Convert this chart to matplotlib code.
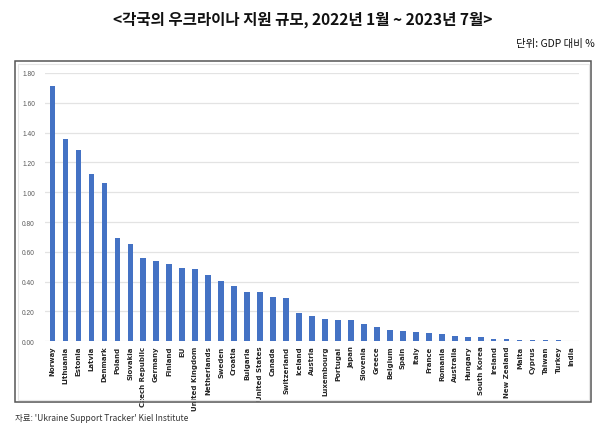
import matplotlib
matplotlib.use("Agg")
import matplotlib.pyplot as plt
from matplotlib.patches import Rectangle

plt.rcParams['font.family'] = ['Noto Sans CJK KR', 'DejaVu Sans']

countries = ["Norway", "Lithuania", "Estonia", "Latvia", "Denmark", "Poland", "Slovakia",
             "Czech Republic", "Germany", "Finland", "EU", "United Kingdom", "Netherlands",
             "Sweden", "Croatia", "Bulgaria", "United States", "Canada", "Switzerland",
             "Iceland", "Austria", "Luxembourg", "Portugal", "Japan", "Slovenia", "Greece",
             "Belgium", "Spain", "Italy", "France", "Romania", "Australia", "Hungary",
             "South Korea", "Ireland", "New Zealand", "Malta", "Cyprus", "Taiwan", "Turkey", "India"]
values = [1.71, 1.36, 1.285, 1.125, 1.06, 0.693, 0.65, 0.56, 0.537, 0.519, 0.492, 0.485,
          0.445, 0.407, 0.369, 0.333, 0.329, 0.30, 0.288, 0.19, 0.17, 0.15, 0.143, 0.143,
          0.116, 0.094, 0.076, 0.067, 0.062, 0.058, 0.047, 0.036, 0.029, 0.029, 0.018,
          0.018, 0.011, 0.011, 0.009, 0.009, 0.002]
yticks = [0.0, 0.2, 0.4, 0.6, 0.8, 1.0, 1.2, 1.4, 1.6, 1.8]

title = "<각국의 우크라이나 지원 규모, 2022년 1월 ~ 2023년 7월>"
unit = "단위: GDP 대비 %"
source = "자료: 'Ukraine Support Tracker' Kiel Institute"

W, H = 600, 427
fig = plt.figure(figsize=(6, 4.27), dpi=100)

# outer frame
fig.patches.append(Rectangle((14.7 / W, 1 - 403 / H), (591 - 14.7) / W, (403 - 62) / H,
                             transform=fig.transFigure, fill=False, edgecolor='#555555', lw=1.1))
fig.patches.append(Rectangle((17.5 / W, 1 - 400.5 / H), (588.5 - 17.5) / W, (400.5 - 65) / H,
                             transform=fig.transFigure, fill=False, edgecolor='#e6e6e6', lw=0.8))

ax = fig.add_axes([45 / W, 1 - 342.3 / H, (579 - 45) / W, (342.3 - 74) / H])
x = list(range(len(countries)))
ax.bar(x, values, width=0.4, color='#4472C4', zorder=3)
ax.set_xlim(-0.55, len(countries) - 0.45)
ax.set_ylim(0, 1.8)
ax.set_yticks(yticks)
ax.set_yticklabels([f"{v:.2f}" for v in yticks], fontsize=4.8, color='#595959',
                   family=['Liberation Sans', 'DejaVu Sans'])
ax.set_xticks(x)
ax.set_xticklabels(countries, rotation=90, fontsize=5, fontweight='bold', color='#262626',
                   family=['DejaVu Sans'])
ax.tick_params(axis='both', length=0)
ax.tick_params(axis='y', pad=7.2)
ax.tick_params(axis='x', pad=3)
for s in ax.spines.values():
    s.set_visible(False)
ax.grid(axis='y', color='#e3e3e3', lw=0.9, zorder=0)
ax.set_axisbelow(True)

fig.text(303 / W, 1 - 20 / H, title, ha='center', va='center', fontsize=11.2, fontweight='bold',
         color='#111111')
fig.text(595 / W, 1 - 44 / H, unit, ha='right', va='center', fontsize=7.5, color='#111111')
fig.text(15 / W, 1 - 419 / H, source, ha='left', va='center', fontsize=6.1, color='#333333')

fig.savefig("out.png", dpi=100)
